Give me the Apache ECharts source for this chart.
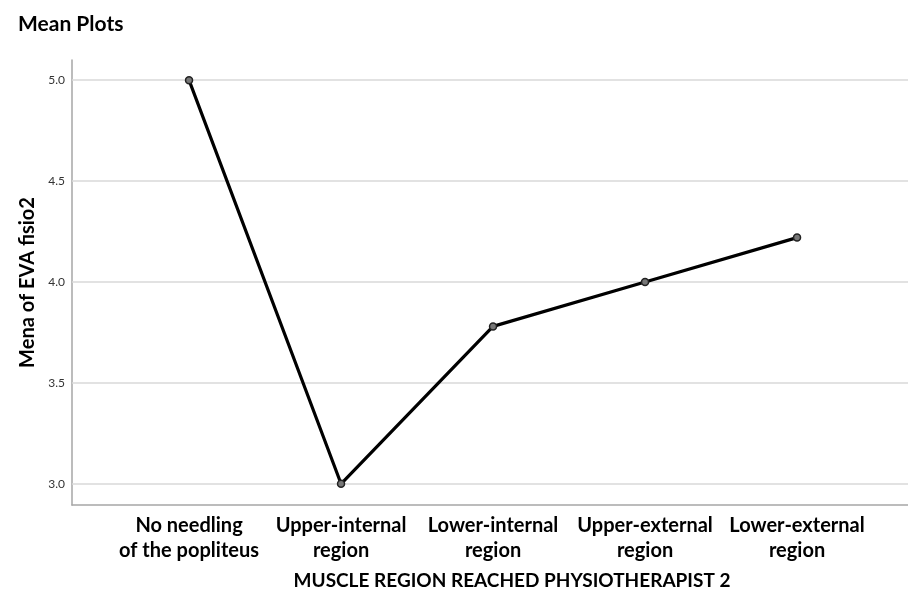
<!DOCTYPE html>
<html><head><meta charset="utf-8">
<script src="https://cdn.jsdelivr.net/npm/echarts@6/dist/echarts.min.js"></script>
<style>html,body{margin:0;padding:0;background:#fff;overflow:hidden}#c{width:908px;height:595px}</style>
</head><body><div id="c"></div>
<script>
const categories = ["No needling\nof the popliteus", "Upper-internal\nregion", "Lower-internal\nregion", "Upper-external\nregion", "Lower-external\nregion"];
const means = [5.0, 3.0, 3.78, 4.0, 4.22];
const yTicks = [3.0, 3.5, 4.0, 4.5, 5.0];
const catIdx = categories.map((_, i) => i);
const FONT = 'Lato, "Open Sans", sans-serif';
const chart = echarts.init(document.getElementById('c'));
chart.setOption({
  animation: false,
  title: { text: 'Mean Plots', left: 13, top: 9, textStyle: { fontFamily: FONT, fontSize: 21, fontWeight: 'bold', color: '#000' } },
  grid: { left: 72, width: 836, top: 60, bottom: 90, outerBoundsMode: 'none', containLabel: false },
  xAxis: {
    type: 'value', min: -0.77, max: 4.73,
    axisLine: { show: true, onZero: false, lineStyle: { color: '#a6a6a6', width: 1.5 } },
    axisTick: { show: false }, splitLine: { show: false },
    axisLabel: { customValues: catIdx, formatter: v => categories[Math.round(v)] || '', fontFamily: FONT, fontSize: 20, fontWeight: 'bold', color: '#000', lineHeight: 25, margin: 8 },
    name: 'MUSCLE REGION REACHED PHYSIOTHERAPIST 2', nameLocation: 'middle', nameGap: 66,
    nameTextStyle: { fontFamily: FONT, fontSize: 19, fontWeight: 'bold', color: '#000', padding: [0, 0, 0, 44] }
  },
  yAxis: {
    type: 'value', min: 2.895, max: 5.1,
    axisLine: { show: true, onZero: false, lineStyle: { color: '#a6a6a6', width: 1.5 } },
    axisTick: { show: false }, splitLine: { show: false },
    axisLabel: { customValues: yTicks, formatter: v => v.toFixed(1), fontFamily: FONT, fontSize: 12, color: '#333', margin: 7 },
    name: 'Mena of EVA fisio2', nameLocation: 'middle', nameGap: 34, nameRotate: 90,
    nameTextStyle: { fontFamily: FONT, fontSize: 20, fontWeight: 'bold', color: '#000' }
  },
  series: [{
    type: 'line',
    data: means.map((v, i) => [i, v]),
    symbol: 'circle', symbolSize: 7,
    lineStyle: { color: '#000', width: 3.2 },
    itemStyle: { color: '#777', borderColor: '#222', borderWidth: 1.5 },
    markLine: {
      silent: true, symbol: 'none', label: { show: false },
      lineStyle: { color: '#d9d9d9', width: 1.5, type: 'solid' },
      data: yTicks.map(v => ({ yAxis: v }))
    },
    z: 5
  }]
});
</script></body></html>
